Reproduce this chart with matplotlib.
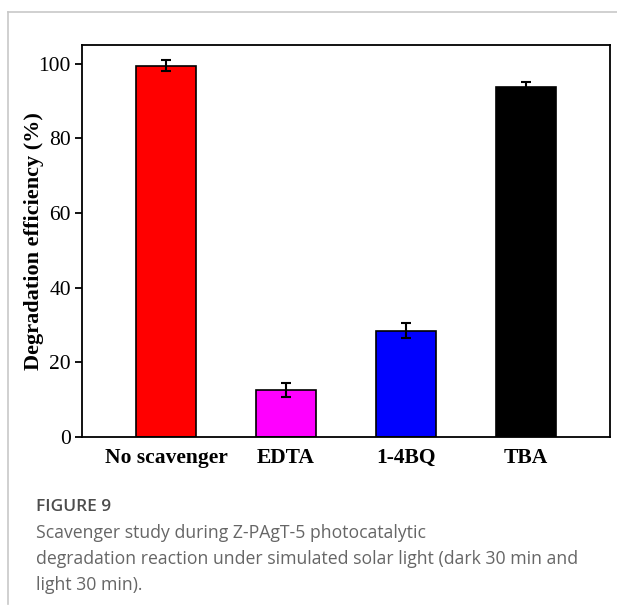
import matplotlib
matplotlib.use("Agg")
import matplotlib.pyplot as plt
from matplotlib.lines import Line2D

# data
categories = ["No scavenger", "EDTA", "1-4BQ", "TBA"]
efficiency = [99.5, 12.6, 28.5, 93.8]
errors = [1.5, 1.8, 2.0, 1.3]
colors = ["#ff0000", "#ff00ff", "#0000ff", "#000000"]

W, H = 617, 612
fig = plt.figure(figsize=(W / 100, H / 100), dpi=100)

# axes placed in pixel coords of the reference
left, right, top, bottom = 82, 610, 45, 437
ax = fig.add_axes([left / W, 1 - bottom / H, (right - left) / W, (bottom - top) / H])

x = list(range(len(categories)))
ax.bar(x, efficiency, width=0.5, color=colors, edgecolor="black", linewidth=1.2,
       yerr=errors, error_kw=dict(ecolor="black", elinewidth=1.5, capsize=3.5, capthick=1.5))

ax.set_xlim(-0.7, 3.7)
ax.set_ylim(0, 105)
ax.set_yticks([0, 20, 40, 60, 80, 100])
ax.set_xticks(x)
ax.set_xticklabels(categories, fontfamily="Liberation Serif", fontweight="bold", fontsize=15.5)
ax.tick_params(axis="x", length=0, pad=8)
ax.tick_params(axis="y", direction="out", length=5, width=1.3, labelsize=15.5, pad=3)
for lab in ax.get_yticklabels():
    lab.set_fontfamily("Liberation Serif")
ax.set_ylabel("Degradation efficiency (%)", fontfamily="Liberation Serif",
              fontweight="bold", fontsize=16)
ax.yaxis.set_label_coords(-0.072, 0.5)
for s in ax.spines.values():
    s.set_linewidth(1.3)

# light frame of the figure panel
fig.add_artist(Line2D([8 / W, 1], [1 - 12 / H, 1 - 12 / H], color="#c8c8c8", lw=1.2))
fig.add_artist(Line2D([8 / W, 8 / W], [1 - 12 / H, 1 - 604 / H], color="#c8c8c8", lw=1.2))

# caption
fig.text(36 / W, 1 - 511 / H, "FIGURE 9", fontfamily="Open Sans", fontsize=12.5,
         fontweight="semibold", color="#4d4d4d", va="baseline")
caption = ["Scavenger study during Z-PAgT-5 photocatalytic",
           "degradation reaction under simulated solar light (dark 30 min and",
           "light 30 min)."]
for i, line in enumerate(caption):
    fig.text(36 / W, 1 - (538 + 26 * i) / H, line, fontfamily="Open Sans", fontsize=12.7,
             color="#666666", va="baseline")

fig.savefig("out.png", dpi=100)
